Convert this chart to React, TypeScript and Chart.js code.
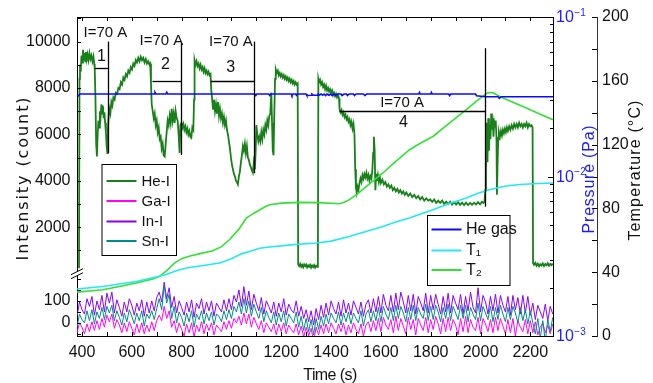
import React, { useEffect, useRef } from 'react';
import { Chart, registerables } from 'chart.js';

Chart.register(...registerables);

const NARROW = '"Liberation Sans Narrow", "Liberation Sans", sans-serif';
const SANS = '"Liberation Sans", "DejaVu Sans", sans-serif';
const WIDE = '"DejaVu Sans", "Liberation Sans", sans-serif';

// ---------------- axis ranges & ticks ----------------
const TIME_MIN = 380;
const TIME_MAX = 2291;
const UPPER_MIN = 0;
const UPPER_MAX = 11060;
const LOWER_MIN = -60;
const LOWER_MAX = 224;
const P_MIN = 0.001;
const P_MAX = 0.1;
const T_MIN = 0;
const T_MAX = 200;

const X_TICKS = [400, 500, 600, 700, 800, 900, 1000, 1100, 1200, 1300, 1400, 1500, 1600, 1700, 1800, 1900, 2000, 2100, 2200];
const X_LABELS = [400, 600, 800, 1000, 1200, 1400, 1600, 1800, 2000, 2200];
const UPPER_TICKS = [1000, 2000, 3000, 4000, 5000, 6000, 7000, 8000, 9000, 10000, 11000];
const UPPER_LABELS = [2000, 4000, 6000, 8000, 10000];
const LOWER_TICKS = [-50, 0, 50, 100, 150, 200];
const LOWER_LABELS = [0, 100];
const PRESSURE_TICKS = [0.001, 0.002, 0.003, 0.004, 0.005, 0.006, 0.007, 0.008, 0.009, 0.01, 0.02, 0.03, 0.04, 0.05, 0.06, 0.07, 0.08, 0.09, 0.1];
const PRESSURE_LABEL_VALUES = [0.001, 0.01, 0.1];
const PRESSURE_LABEL_BASE = '10';
const PRESSURE_LABEL_EXP = ['\u22123', '\u22122', '\u22121'];
const TEMP_TICKS = [0, 20, 40, 60, 80, 100, 120, 140, 160, 180, 200];
const TEMP_LABELS = [0, 40, 80, 120, 160, 200];

// ---------------- series ----------------
// He-I emission intensity (count): [time s, count]
const HE_I = [
  [384, 300], [388, 280], [390, 8400], [392, 9000], [395, 8700], [398, 9400], [401, 9100], [404, 9650], [407, 9200], [410, 9500],
  [413, 9150], [416, 9550], [419, 9250], [422, 9450], [426, 9200], [430, 9500], [434, 9250], [438, 9400], [442, 9150], [446, 9350],
  [449, 9050], [451, 8900], [454, 7600], [457, 5600], [460, 5050], [463, 6000], [466, 6600], [469, 6300], [472, 7000], [475, 6800],
  [478, 7300], [481, 6900], [484, 7250], [487, 6700], [490, 6950], [493, 6500], [496, 6100], [499, 5500], [502, 5200], [504, 6200],
  [507, 6800], [510, 7100], [514, 6900], [518, 7400], [522, 7250], [526, 7600], [531, 7500], [536, 7800], [541, 7750], [546, 8000],
  [551, 7950], [556, 8250], [561, 8150], [566, 8450], [571, 8350], [576, 8600], [581, 8500], [586, 8750], [591, 8650], [596, 8900],
  [601, 8800], [606, 9050], [611, 8950], [616, 9200], [621, 9100], [626, 9300], [631, 9150], [636, 9350], [641, 9200], [646, 9300],
  [651, 9100], [656, 9250], [661, 9050], [666, 9150], [671, 9000], [674, 9050], [677, 8200], [680, 7300], [684, 7000], [688, 6700],
  [692, 6900], [696, 6400], [700, 6600], [704, 6100], [708, 6300], [712, 5800], [716, 5900], [720, 5400], [724, 5600], [728, 5100],
  [732, 5050], [736, 5600], [740, 6100], [744, 6600], [748, 6400], [752, 6800], [756, 6500], [760, 7100], [764, 6600], [768, 6900],
  [772, 6500], [776, 7000], [780, 6700], [784, 6600], [788, 6000], [792, 5200], [795, 6400], [799, 6500], [803, 6300], [807, 6450],
  [811, 6200], [815, 6350], [819, 6100], [823, 6250], [827, 6000], [831, 6150], [835, 5900], [839, 5850], [843, 6300], [847, 6200],
  [850, 7500], [852, 9200], [856, 9000], [860, 9150], [864, 8950], [868, 9050], [872, 8850], [876, 9000], [880, 8800], [884, 8900],
  [888, 8700], [892, 8850], [896, 8650], [900, 8750], [904, 8600], [908, 8700], [912, 8550], [916, 8600], [919, 7900], [922, 7600],
  [926, 7100], [930, 7500], [934, 7000], [938, 7300], [942, 6900], [946, 7400], [950, 6800], [954, 7100], [958, 6700], [962, 6900],
  [966, 6500], [970, 6750], [974, 6400], [978, 6600], [982, 6200], [986, 6000], [990, 5700], [994, 5400], [998, 5000], [1002, 4700],
  [1006, 4500], [1010, 4300], [1014, 4200], [1018, 4000], [1022, 3950], [1026, 3850], [1030, 4200], [1034, 4400], [1038, 4800], [1042, 5100],
  [1046, 5500], [1050, 5300], [1054, 5600], [1058, 5200], [1062, 5500], [1066, 5000], [1070, 4900], [1074, 4700], [1078, 4600], [1082, 4450],
  [1086, 4350], [1090, 4800], [1094, 4500], [1097, 5200], [1100, 6400], [1104, 6000], [1108, 5700], [1112, 5900], [1116, 5700], [1120, 6100],
  [1124, 5800], [1128, 6200], [1132, 6000], [1136, 6400], [1140, 6200], [1144, 6600], [1148, 6400], [1152, 6800], [1156, 6900], [1160, 7800],
  [1163, 6500], [1166, 5300], [1169, 5100], [1172, 6800], [1175, 8400], [1178, 8800], [1182, 8650], [1186, 8750], [1190, 8550], [1194, 8650],
  [1198, 8500], [1202, 8600], [1206, 8450], [1210, 8550], [1214, 8400], [1218, 8500], [1222, 8350], [1226, 8450], [1230, 8300], [1234, 8400],
  [1238, 8250], [1242, 8350], [1246, 8200], [1250, 8300], [1254, 8150], [1258, 8250], [1262, 8150], [1266, 8200], [1268, 400], [1272, 330],
  [1276, 420], [1280, 300], [1284, 380], [1288, 280], [1292, 400], [1296, 320], [1300, 390], [1304, 270], [1308, 360], [1312, 300],
  [1316, 380], [1320, 260], [1324, 350], [1328, 290], [1332, 370], [1336, 260], [1340, 340], [1344, 300], [1347, 380], [1349, 8400],
  [1352, 8250], [1356, 8350], [1360, 8150], [1364, 8250], [1368, 8050], [1372, 8150], [1376, 7950], [1380, 8100], [1384, 7900], [1388, 8000],
  [1392, 7850], [1396, 7950], [1400, 7800], [1404, 7900], [1408, 7700], [1412, 7800], [1416, 7650], [1420, 7750], [1424, 7600], [1428, 7700],
  [1432, 7550], [1434, 7100], [1438, 6950], [1442, 7050], [1446, 6850], [1450, 6950], [1454, 6750], [1458, 6850], [1462, 6650], [1466, 6750],
  [1470, 6550], [1474, 6650], [1478, 6400], [1482, 6550], [1486, 6250], [1490, 6450], [1494, 6000], [1497, 4500], [1500, 3700], [1503, 3500],
  [1506, 3750], [1510, 3600], [1514, 3900], [1518, 4100], [1522, 3950], [1526, 4250], [1530, 4100], [1534, 4300], [1538, 4150], [1542, 4350],
  [1546, 4100], [1550, 4250], [1554, 4000], [1558, 4200], [1562, 4100], [1566, 4500], [1569, 5200], [1572, 5900], [1575, 5300], [1578, 3600],
  [1581, 4300], [1584, 4000], [1588, 4250], [1592, 3950], [1596, 4150], [1600, 3900], [1606, 4050], [1612, 3850], [1618, 3950], [1624, 3750],
  [1630, 3850], [1636, 3700], [1642, 3800], [1648, 3600], [1654, 3700], [1660, 3550], [1666, 3650], [1672, 3500], [1678, 3600], [1684, 3450],
  [1690, 3550], [1696, 3400], [1702, 3500], [1710, 3350], [1718, 3450], [1726, 3300], [1734, 3400], [1742, 3250], [1750, 3350], [1758, 3200],
  [1766, 3300], [1774, 3150], [1782, 3250], [1790, 3150], [1798, 3200], [1806, 3100], [1814, 3200], [1822, 3050], [1830, 3150], [1838, 3050],
  [1846, 3150], [1854, 3000], [1862, 3100], [1870, 3000], [1878, 3100], [1886, 2980], [1894, 3080], [1902, 2980], [1910, 3080], [1918, 2970],
  [1926, 3060], [1934, 2960], [1942, 3060], [1950, 2960], [1958, 3050], [1966, 2970], [1974, 3060], [1982, 2980], [1990, 3080], [1998, 2990],
  [2006, 3100], [2012, 3050], [2016, 3100], [2019, 3600], [2022, 4500], [2025, 6500], [2028, 4800], [2031, 6700], [2034, 5300], [2037, 6400],
  [2040, 5800], [2043, 6900], [2046, 6200], [2049, 6700], [2052, 5900], [2055, 6500], [2058, 6300], [2061, 6600], [2064, 5900], [2066, 3400],
  [2068, 4500], [2071, 5800], [2074, 6100], [2078, 5900], [2082, 6150], [2086, 5950], [2090, 6200], [2094, 6050], [2098, 6250], [2102, 6100],
  [2106, 6300], [2110, 6150], [2115, 6350], [2120, 6200], [2125, 6400], [2130, 6250], [2135, 6450], [2140, 6300], [2145, 6450], [2150, 6300],
  [2155, 6500], [2160, 6350], [2165, 6450], [2170, 6300], [2175, 6450], [2180, 6350], [2185, 6500], [2190, 6300], [2195, 6450], [2200, 6350],
  [2205, 6400], [2209, 6300], [2211, 450], [2215, 380], [2220, 470], [2225, 340], [2230, 430], [2235, 320], [2240, 410], [2245, 350],
  [2250, 440], [2255, 330], [2260, 420], [2265, 360], [2270, 450], [2275, 340], [2280, 420], [2285, 370], [2290, 430],
];

// weak lines, sampled every 10 s from 380 s (one row = 100 s)
const WEAK_START = 380;
const WEAK_STEP = 10;
const GA_I = [
  -45, 0, -20, -50, -5, -40, 5, -35, 10, -30,
  20, -20, 35, 5, 40, -25, 15, -10, -45, 0,
  -40, 5, -25, -55, -5, -45, 0, -50, -10, -40,
  5, -35, 10, 35, 10, 75, 20, 55, -20, 10,
  -45, 0, -30, -60, -5, -45, 0, -65, -10, -40,
  5, -50, -5, -35, 0, -55, -10, -25, -40, 5,
  -30, 10, -25, 20, 0, 30, -10, 45, -5, 40,
  -20, 25, -5, -30, 10, -45, 0, -20, -40, -5,
  -55, -5, -40, 0, -50, -10, -30, -45, -5, -55,
  -15, -65, -20, -60, -25, -85, -20, -55, -10, -50,
  -5, -45, 0, -25, -50, -5, -40, 0, -55, -10,
  -45, 0, -30, -50, -5, -60, -10, 5, -40, 10,
  -35, 20, -40, 25, -10, -30, 15, -45, 30, -35,
  20, -15, -50, 25, -30, 15, -55, 20, -10, -35,
  25, -45, 15, -30, 30, -5, -50, 20, -40, 25,
  -35, 15, -10, -55, 20, -40, 30, -45, 15, -20,
  -35, 25, -50, 20, -5, -40, 15, -45, 25, -35,
  20, -15, -50, 15, -45, 20, -60, 10, -20, -40,
  15, -50, 10, -45, 5, -55, -20, 0, -45, -10,
  -50, -5,
];
const IN_I = [
  30, 95, 60, 40, 110, 75, 120, 35, 100, 60,
  125, 50, 135, 90, 140, 45, 105, 70, 30, 95,
  50, 110, 80, 35, 90, 55, 105, 30, 95, 45,
  100, 55, 115, 140, 95, 185, 110, 160, 70, 120,
  45, 100, 70, 35, 95, 50, 105, 25, 90, 65,
  110, 40, 95, 55, 100, 30, 90, 70, 50, 105,
  55, 110, 60, 125, 95, 150, 75, 165, 80, 145,
  60, 130, 90, 55, 115, 40, 100, 75, 45, 95,
  30, 90, 50, 110, 35, 85, 60, 45, 100, 30,
  75, 20, 60, 5, 55, -10, 65, 15, 80, 25,
  90, 35, 100, 65, 40, 95, 30, 105, 45, 90,
  35, 100, 70, 40, 95, 30, 85, 105, 45, 110,
  50, 120, 45, 130, 80, 55, 125, 50, 135, 60,
  140, 95, 45, 125, 55, 130, 40, 120, 90, 55,
  135, 45, 125, 60, 130, 85, 40, 120, 50, 135,
  45, 125, 90, 60, 130, 40, 120, 55, 140, 70,
  45, 160, 50, 125, 95, 40, 120, 55, 130, 45,
  125, 80, 50, 120, 35, 125, 60, 115, 40, 125,
  45, 120, 35, 90, 15, 80, 50, 20, 85, 10,
  75, 40,
];
const SN_I = [
  -20, 40, 15, 0, 55, 10, 60, -5, 50, 20,
  70, 15, 75, 45, 80, 10, 55, 25, -10, 45,
  5, 60, 30, -5, 45, 10, 55, -15, 40, 20,
  55, 15, 65, 110, 60, 170, 90, 130, 20, 75,
  0, 50, 25, -15, 45, 5, 55, -20, 40, 15,
  55, -5, 45, 10, 50, -10, 40, 30, 5, 55,
  15, 60, 20, 75, 50, 95, 40, 110, 45, 100,
  30, 85, 50, 20, 70, 5, 55, 25, 0, 50,
  -10, 45, 5, 55, -15, 40, 20, 0, 50, -20,
  30, -35, 20, -40, 15, -55, 20, -30, 30, -15,
  40, -5, 45, 20, 0, 50, -10, 45, 5, 50,
  -5, 45, 20, 0, 55, -15, 40, 60, 5, 55,
  10, 70, 5, 75, 40, 15, 70, 10, 80, 20,
  75, 45, 5, 70, 15, 80, 10, 70, 40, 20,
  85, 10, 75, 15, 80, 50, 5, 70, 20, 85,
  10, 75, 45, 15, 80, 20, 80, 5, 70, 40,
  15, 90, 10, 75, 45, 15, 75, 5, 70, 15,
  80, 40, 5, 70, 15, 75, 45, 0, 70, 10,
  60, -5, 55, 0, -50, 20, -70, 10, -85, 15,
  -40, 25,
];

// He gas pressure (Pa): [time s, Pa]
const HE_GAS = [
  [380, 0.0325], [386, 0.0321], [392, 0.0329], [690, 0.0329], [693, 0.0337], [697, 0.0329], [737, 0.0329], [740, 0.0337],
  [744, 0.0329], [1094, 0.0329], [1098, 0.0322], [1102, 0.0329], [1150, 0.0329], [1154, 0.0322], [1158, 0.0329], [1240, 0.0329],
  [1243, 0.0322], [1247, 0.0329], [1258, 0.0329], [1261, 0.0323], [1264, 0.0329], [1300, 0.0329], [1303, 0.0322], [1320, 0.0323],
  [1323, 0.0329], [1330, 0.0323], [1345, 0.0323], [1348, 0.0329], [1352, 0.0323], [1360, 0.0329], [1366, 0.0323], [1372, 0.0329],
  [1378, 0.0322], [1384, 0.0329], [1392, 0.0323], [1398, 0.0329], [1404, 0.0322], [1412, 0.0329], [1418, 0.0323], [1426, 0.0329],
  [1440, 0.0329], [1444, 0.0322], [1452, 0.0329], [1462, 0.0329], [1466, 0.0322], [1472, 0.0329], [1490, 0.0329], [1494, 0.0322],
  [1500, 0.0329], [1530, 0.0329], [1536, 0.0322], [1542, 0.0329], [1752, 0.0329], [1755, 0.0337], [1758, 0.0329], [1800, 0.0329],
  [1803, 0.0337], [1806, 0.0329], [1872, 0.0329], [1876, 0.0321], [1880, 0.0329], [1980, 0.0329], [1984, 0.0321], [2020, 0.0316],
  [2070, 0.0316], [2076, 0.0309], [2082, 0.0316], [2291, 0.0316],
];

// Temperatures (degC): [time s, degC]
const T1 = [
  [380, 29.5], [483, 31], [550, 32.6], [618, 34.2], [684, 36.5], [739, 38.5], [770, 40.5], [792, 41.6], [830, 43], [859, 43.6],
  [900, 44.5], [953, 45.8], [1000, 48.5], [1040, 51.5], [1073, 53], [1113, 55], [1153, 55.8], [1250, 57.3], [1341, 58.3], [1400, 59.5],
  [1473, 62.4], [1540, 65.5], [1608, 68.7], [1660, 71.5], [1715, 74], [1760, 76.5], [1809, 79.2], [1875, 83], [1943, 86.5], [1990, 89.5],
  [2036, 91.7], [2077, 93.3], [2117, 94.4], [2160, 95], [2209, 95.5], [2291, 95.9],
];
const T2 = [
  [380, 27.5], [430, 28.2], [483, 29], [550, 31], [618, 33.2], [684, 35.7], [712, 37.4], [740, 41], [770, 45.5], [800, 48.5],
  [830, 50], [870, 51.5], [925, 53.5], [960, 56], [993, 60.5], [1030, 67], [1060, 74], [1090, 77], [1113, 79], [1135, 81],
  [1153, 82.3], [1200, 83.3], [1274, 83.8], [1350, 83.6], [1434, 82.9], [1455, 84], [1473, 85.5], [1505, 89], [1542, 93.8], [1575, 98],
  [1608, 102.2], [1660, 109.5], [1715, 116.8], [1760, 121], [1809, 125.1], [1875, 133.5], [1943, 141.9], [1990, 148], [2030, 152.7], [2050, 152.5],
  [2077, 150.2], [2130, 146.5], [2184, 143], [2240, 139], [2291, 135.6],
];

// ---------------- discharge annotations ----------------
const MARK_TIME = [503, 796, 1089, 2016];
const MARK_TOP = [10000, 9940, 10000, 9715];
const MARK_BOTTOM = [5200, 5115, 4330, 2890];
const BRACKET_START = [451, 683, 917, 1434];
const BRACKET_LEVEL = [8880, 8320, 8320, 7010];
const CURRENT_TEXT = 'I=70 A';
const CURRENT_TIME = [494, 719, 998, 1685];
const CURRENT_LEVEL = [10360, 10040, 9970, 7340];
const RUN_TEXT = ['1', '2', '3', '4'];
const RUN_TIME = [478, 735, 997, 1691];
const RUN_LEVEL = [9350, 9000, 8900, 6510];

const COLORS = {
  he: 'rgb(24,128,24)',
  ga: '#ff00ff',
  inn: '#8a00ff',
  sn: '#008b8b',
  gas: '#0a0aff',
  t1: '#22e8f2',
  t2: '#33e033',
};
const PRESSURE_COLOR = '#1c1cff';

const setTicks = (values: number[]) => (scale: any) => {
  scale.ticks = values.map((v) => ({ value: v }));
};
const labelIf = (labels: number[]) => (v: any) => (labels.includes(Number(v)) ? String(v) : '');

function fitText(ctx: any, text: string, x: number, y: number, rot: number, width: number, font: string, color: string) {
  ctx.save();
  ctx.translate(x, y);
  ctx.rotate(rot);
  ctx.font = font;
  ctx.fillStyle = color;
  ctx.textAlign = 'center';
  ctx.textBaseline = 'alphabetic';
  const n = Array.from(text).length;
  const w = ctx.measureText(text).width;
  if ('letterSpacing' in ctx && n > 1) {
    ctx.letterSpacing = `${((width - w) / (n - 1)).toFixed(2)}px`;
  }
  ctx.fillText(text, 0, 0);
  ctx.restore();
}

function drawLegend(ctx: any, chart: any, idx: number[], box: number[], rows: number[], lx: number[], tx: number, size: number) {
  const [l, t, r, b] = box;
  ctx.save();
  ctx.fillStyle = '#fff';
  ctx.fillRect(l, t, r - l, b - t);
  ctx.strokeStyle = '#000';
  ctx.lineWidth = 1;
  ctx.strokeRect(l + 0.5, t + 0.5, r - l, b - t);
  idx.forEach((d, k) => {
    const ds = chart.data.datasets[d];
    ctx.strokeStyle = ds.borderColor;
    ctx.lineWidth = 2;
    ctx.beginPath();
    ctx.moveTo(lx[0], rows[k]);
    ctx.lineTo(lx[1], rows[k]);
    ctx.stroke();
    ctx.fillStyle = '#111';
    ctx.font = `${size}px ${NARROW}`;
    ctx.textAlign = 'left';
    ctx.textBaseline = 'middle';
    ctx.fillText(ds.label, tx, rows[k] + 0.5);
  });
  ctx.restore();
}

function drawInwardTicks(chart: any) {
  const { ctx, chartArea, scales } = chart;
  const { left, right, top, bottom } = chartArea;
  ctx.save();
  ctx.strokeStyle = '#000';
  ctx.lineWidth = 1;
  ctx.beginPath();
  X_TICKS.forEach((v) => {
    const px = Math.round(scales.x.getPixelForValue(v)) + 0.5;
    ctx.moveTo(px, bottom);
    ctx.lineTo(px, bottom - 4);
    ctx.moveTo(px, top);
    ctx.lineTo(px, top + 4);
  });
  UPPER_TICKS.forEach((v) => {
    const py = Math.round(scales.yUp.getPixelForValue(v)) + 0.5;
    ctx.moveTo(left, py);
    ctx.lineTo(left + 4, py);
  });
  LOWER_TICKS.forEach((v) => {
    const py = Math.round(scales.yLow.getPixelForValue(v)) + 0.5;
    ctx.moveTo(left, py);
    ctx.lineTo(left + 4, py);
  });
  PRESSURE_TICKS.forEach((v) => {
    const py = Math.round(scales.yP.getPixelForValue(v)) + 0.5;
    const major = PRESSURE_LABEL_VALUES.some((p) => Math.abs(p - v) < p * 1e-6);
    ctx.moveTo(right, py);
    ctx.lineTo(right - (major ? 5 : 3), py);
  });
  const tx = scales.yT.left;
  TEMP_TICKS.forEach((v) => {
    const py = Math.round(scales.yT.getPixelForValue(v)) + 0.5;
    ctx.moveTo(tx, py);
    ctx.lineTo(tx - 5, py);
  });
  ctx.stroke();

  // pressure labels: 10 with a raised exponent
  ctx.fillStyle = PRESSURE_COLOR;
  ctx.textAlign = 'left';
  ctx.textBaseline = 'middle';
  PRESSURE_LABEL_VALUES.forEach((v, i) => {
    const py = scales.yP.getPixelForValue(v);
    ctx.font = `16px ${NARROW}`;
    ctx.fillText(PRESSURE_LABEL_BASE, right + 3, py + 1);
    const w = ctx.measureText(PRESSURE_LABEL_BASE).width;
    ctx.font = `10px ${NARROW}`;
    ctx.fillText(PRESSURE_LABEL_EXP[i], right + 3 + w + 0.5, py - 4);
  });
  ctx.restore();
}

const overlay = {
  id: 'overlay',
  afterDatasetsDraw(chart: any) {
    const { ctx, scales } = chart;
    const xs = scales.x;
    const yu = scales.yUp;
    ctx.save();
    ctx.strokeStyle = '#000';
    ctx.lineWidth = 1.3;
    MARK_TIME.forEach((t, i) => {
      const px = Math.round(xs.getPixelForValue(t)) + 0.5;
      ctx.beginPath();
      ctx.moveTo(px, yu.getPixelForValue(MARK_TOP[i]));
      ctx.lineTo(px, yu.getPixelForValue(MARK_BOTTOM[i]));
      ctx.stroke();
      const py = Math.round(yu.getPixelForValue(BRACKET_LEVEL[i])) + 0.5;
      ctx.beginPath();
      ctx.moveTo(xs.getPixelForValue(BRACKET_START[i]), py);
      ctx.lineTo(px, py);
      ctx.stroke();
    });
    ctx.fillStyle = '#111';
    ctx.textAlign = 'center';
    ctx.textBaseline = 'middle';
    ctx.font = `15px ${NARROW}`;
    CURRENT_TIME.forEach((t, i) => {
      ctx.fillText(CURRENT_TEXT, xs.getPixelForValue(t), yu.getPixelForValue(CURRENT_LEVEL[i]));
    });
    ctx.font = `16px ${NARROW}`;
    RUN_TIME.forEach((t, i) => {
      ctx.fillText(RUN_TEXT[i], xs.getPixelForValue(t), yu.getPixelForValue(RUN_LEVEL[i]));
    });
    ctx.restore();
  },
  afterDraw(chart: any) {
    const { ctx, chartArea, scales } = chart;
    drawInwardTicks(chart);

    // axis break marks
    const bx = chartArea.left;
    const by = scales.yUp.bottom;
    ctx.save();
    ctx.fillStyle = '#fff';
    ctx.beginPath();
    ctx.moveTo(bx - 6, by + 1);
    ctx.lineTo(bx + 6, by - 5);
    ctx.lineTo(bx + 6, by - 1);
    ctx.lineTo(bx - 6, by + 5);
    ctx.closePath();
    ctx.fill();
    ctx.strokeStyle = '#000';
    ctx.lineWidth = 1;
    ctx.beginPath();
    ctx.moveTo(bx - 6, by + 1);
    ctx.lineTo(bx + 6, by - 5);
    ctx.moveTo(bx - 6, by + 5);
    ctx.lineTo(bx + 6, by - 1);
    ctx.stroke();
    ctx.restore();

    // axis titles
    fitText(ctx, 'Intensity (count)', 27.5, 178, -Math.PI / 2, 163, `16px ${WIDE}`, '#111');
    fitText(ctx, 'Time (s)', 330, 380, 0, 54, `16px ${SANS}`, '#111');
    fitText(ctx, 'Pressure (Pa)', 593.5, 179, -Math.PI / 2, 108, `16px ${SANS}`, PRESSURE_COLOR);
    fitText(ctx, 'Temperature (\u00B0C)', 639.5, 170, -Math.PI / 2, 140, `16px ${SANS}`, '#111');

    // legends
    drawLegend(ctx, chart, [0, 1, 2, 3], [101.5, 164, 176, 255], [181, 201, 221.5, 241], [106.5, 136.5], 141.5, 15);
    drawLegend(ctx, chart, [4, 5, 6], [427, 215, 509.5, 285], [229.5, 250.5, 270], [431.5, 461.5], 466, 16);
  },
};

const tickFont = { family: NARROW, size: 16 };
const noGrid = { display: false, drawOnChartArea: false, drawTicks: false };

function buildConfig(): any {
  const weak = (arr: number[]) => arr.map((v, i) => ({ x: WEAK_START + i * WEAK_STEP, y: v }));
  const pairs = (arr: number[][]) => arr.map(([x, y]) => ({ x, y }));
  const line = { pointRadius: 0, borderWidth: 1, tension: 0, fill: false, xAxisID: 'x' };
  return {
    type: 'line',
    data: {
      datasets: [
        { ...line, label: 'He-I', data: pairs(HE_I), yAxisID: 'yUp', borderColor: COLORS.he, borderWidth: 1.8, order: 3 },
        { ...line, label: 'Ga-I', data: weak(GA_I), yAxisID: 'yLow', borderColor: COLORS.ga, order: 5 },
        { ...line, label: 'In-I', data: weak(IN_I), yAxisID: 'yLow', borderColor: COLORS.inn, order: 6 },
        { ...line, label: 'Sn-I', data: weak(SN_I), yAxisID: 'yLow', borderColor: COLORS.sn, order: 4 },
        { ...line, label: 'He gas', data: pairs(HE_GAS), yAxisID: 'yP', borderColor: COLORS.gas, borderWidth: 1.6, order: 0 },
        { ...line, label: 'T\u2081', data: pairs(T1), yAxisID: 'yT', borderColor: COLORS.t1, borderWidth: 1.6, order: 1 },
        { ...line, label: 'T\u2082', data: pairs(T2), yAxisID: 'yT', borderColor: COLORS.t2, borderWidth: 1.6, order: 2 },
      ],
    },
    options: {
      animation: false,
      responsive: false,
      devicePixelRatio: 1,
      events: [],
      layout: { padding: 0 },
      plugins: { legend: { display: false }, tooltip: { enabled: false }, title: { display: false } },
      scales: {
        x: {
          type: 'linear', position: 'bottom', min: TIME_MIN, max: TIME_MAX,
          afterBuildTicks: setTicks(X_TICKS),
          afterFit: (s: any) => { s.height = 47; },
          border: { display: true, color: '#000', width: 1 },
          grid: noGrid,
          ticks: { autoSkip: false, maxRotation: 0, padding: 6.5, color: '#111', font: tickFont, callback: labelIf(X_LABELS) },
        },
        xTop: {
          type: 'linear', position: 'top', min: TIME_MIN, max: TIME_MAX,
          afterBuildTicks: setTicks(X_TICKS),
          afterFit: (s: any) => { s.height = 17; },
          border: { display: true, color: '#000', width: 1 },
          grid: noGrid,
          ticks: { display: false, autoSkip: false },
        },
        yLow: {
          type: 'linear', position: 'left', stack: 'left', stackWeight: 62.3, min: LOWER_MIN, max: LOWER_MAX,
          afterBuildTicks: setTicks(LOWER_TICKS),
          afterFit: (s: any) => { s.width = 77; },
          border: { display: true, color: '#000', width: 1 },
          grid: noGrid,
          ticks: { autoSkip: false, padding: 6.5, color: '#111', font: tickFont, callback: labelIf(LOWER_LABELS) },
        },
        yUp: {
          type: 'linear', position: 'left', stack: 'left', stackWeight: 256.7, min: UPPER_MIN, max: UPPER_MAX,
          afterBuildTicks: setTicks(UPPER_TICKS),
          afterFit: (s: any) => { s.width = 77; },
          border: { display: true, color: '#000', width: 1 },
          grid: noGrid,
          ticks: { autoSkip: false, padding: 6.5, color: '#111', font: tickFont, callback: labelIf(UPPER_LABELS) },
        },
        yP: {
          type: 'logarithmic', position: 'right', min: P_MIN, max: P_MAX,
          afterBuildTicks: setTicks(PRESSURE_TICKS),
          afterFit: (s: any) => { s.width = 44; },
          border: { display: true, color: '#000', width: 1 },
          grid: noGrid,
          ticks: { display: false, autoSkip: false },
        },
        yT: {
          type: 'linear', position: 'right', min: T_MIN, max: T_MAX,
          afterBuildTicks: setTicks(TEMP_TICKS),
          afterFit: (s: any) => { s.width = 56; },
          border: { display: true, color: '#333', width: 1 },
          grid: noGrid,
          ticks: { autoSkip: false, padding: 5, color: '#111', font: tickFont, callback: labelIf(TEMP_LABELS) },
        },
      },
    },
    plugins: [overlay],
  };
}

export default function App() {
  const ref = useRef<HTMLCanvasElement>(null);
  useEffect(() => {
    document.body.style.margin = '0';
    const chart = new Chart(ref.current as HTMLCanvasElement, buildConfig());
    return () => chart.destroy();
  }, []);
  return <canvas ref={ref} width={653} height={383} style={{ display: 'block', width: 653, height: 383 }} />;
}
